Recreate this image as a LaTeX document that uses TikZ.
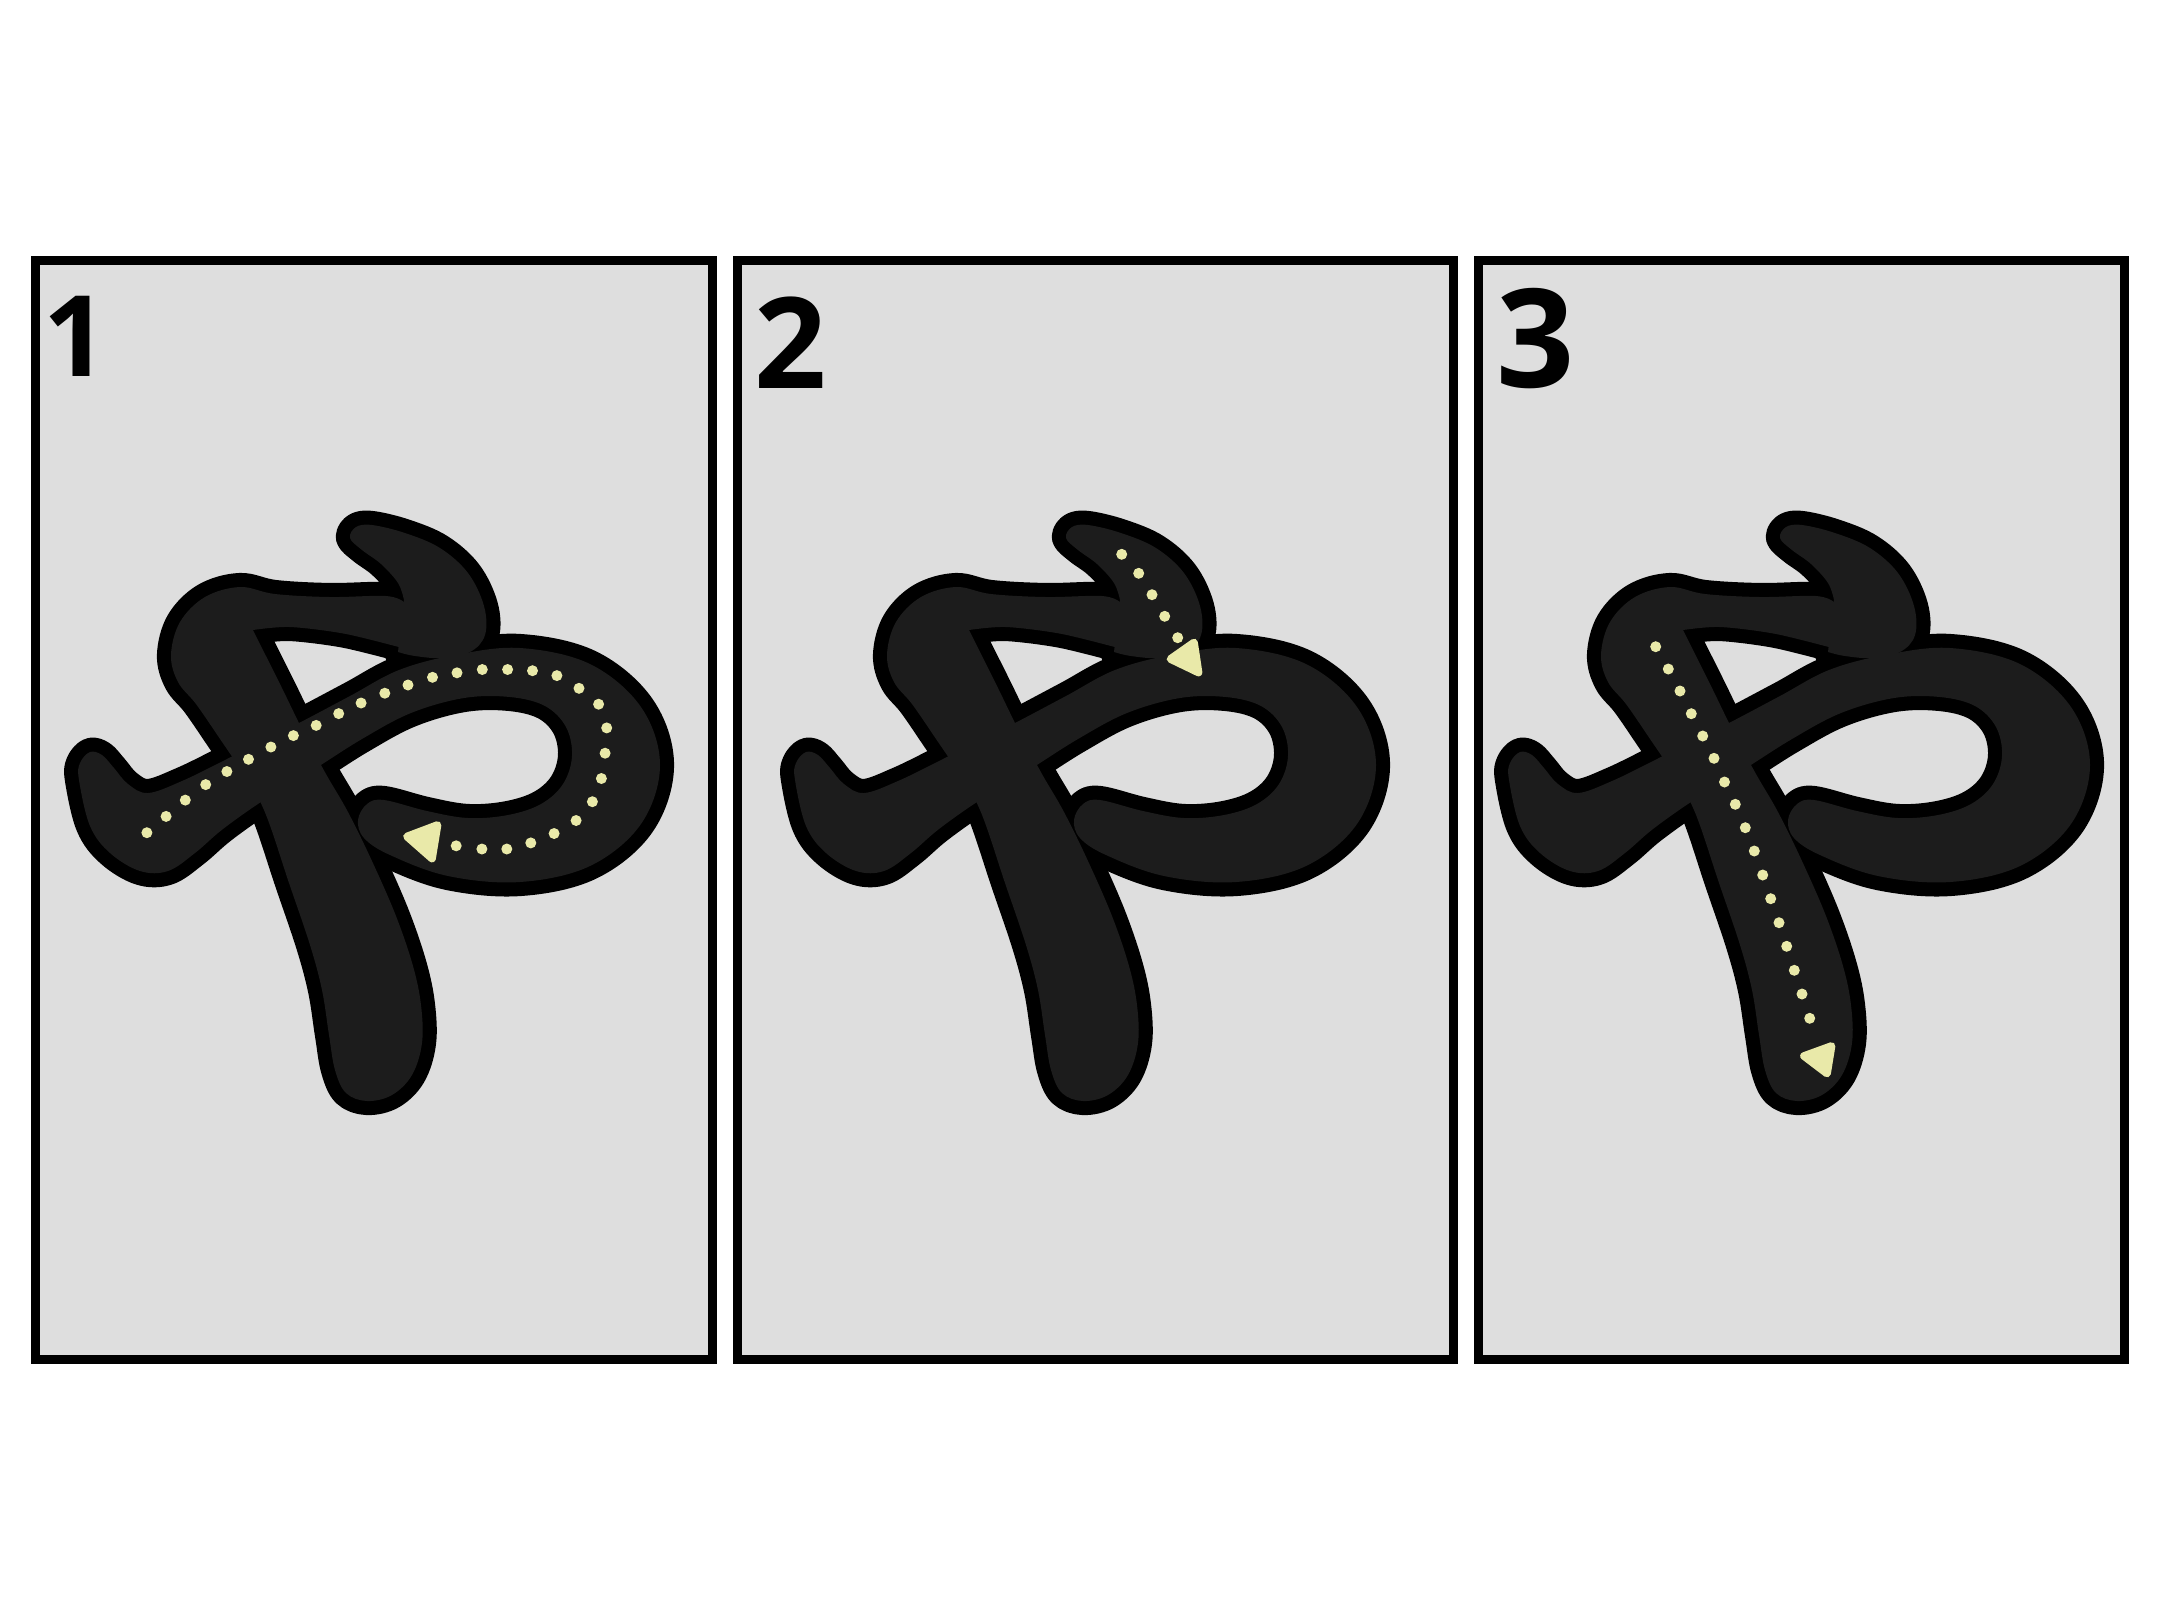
\documentclass[tikz,border=0pt]{standalone}
\usepackage{fontspec}
\setmainfont{Open Sans}
\definecolor{panelbg}{HTML}{DEDEDE}
\definecolor{glyphgray}{HTML}{1C1C1C}
\definecolor{guide}{HTML}{E9E9A9}
\tikzset{
  panelbox/.style={draw=black, fill=panelbg, line width=2.56pt},
  glyphline/.style={draw=black, line width=8pt, line join=round},
  glyphfill/.style={fill=glyphgray},
  guidedot/.style={fill=guide},
  guidetip/.style={fill=guide, draw=guide, line width=2.2pt, line join=round},
  numlabel/.style={font=\bfseries\fontsize{32}{32}\selectfont, inner sep=0pt}
}
\def\strokeloop{plot[smooth cycle, tension=0.6] coordinates {(79,780) (80,763) (90,752) (102,755) (114,768) (128,784) (148,793) (182,781) (223,761) (260,742) (297,724) (350,696) (399,670) (455,655) (520,648) (590,664) (641,707) (660,765) (641,824) (590,866) (520,882) (448,876) (390,855) (364,838) (358,820) (367,804) (384,800) (427,811) (468,818) (508,815) (541,804) (563,784) (572,756) (566,727) (545,706) (510,697) (464,698) (411,713) (362,739) (313,770) (264,800) (223,829) (195,853) (168,871) (140,871) (110,853) (90,826)}}
\def\strokethree{plot[smooth, tension=0.6] coordinates {(253,630) (264,652) (282,688) (304,733) (326,774) (348,812) (372,861) (396,916) (413,966) (421,1005) (422,1043) (412,1075) (392,1095) (367,1101) (346,1093) (335,1070) (329,1035) (322,990) (310,945) (289,883) (264,810) (240,769) (218,736) (196,704) (178,682) (171,655) (180,622) (205,597) (240,587) (275,594) (330,597) (386,596) (404,602)} -- (430,630) -- plot[smooth] coordinates {(410,650) (346,634) (290,627) (253,630)} -- cycle}
\def\strokecres{plot[smooth, tension=0.6] coordinates {(404,600) (398,583) (381,564) (362,550) (350,538) (356,527) (372,525) (405,533) (440,548) (468,573) (484,606) (485,635) (470,652) (442,658) (415,656) (398,652)} -- cycle}
\begin{document}
\begin{tikzpicture}[x=0.1mm,y=-0.1mm]
\fill[white] (0,0) rectangle (2160,1620);
\useasboundingbox (0,0) rectangle (2160,1620);
% panels
\draw[panelbox] (35.5,260.5) rectangle (712.2,1359.5);
\draw[panelbox] (737.5,260.5) rectangle (1453.3,1359.5);
\draw[panelbox] (1478.5,260.5) rectangle (2124.5,1359.5);
% labels
\node[numlabel] (lab1) at (76,336) {1};
\node[numlabel, font=\bfseries\fontsize{36}{36}\selectfont] (lab2) at (791,343) {2};
\node[numlabel, font=\bfseries\fontsize{39}{39}\selectfont] (lab3) at (1536,339) {3};
% glyphs
\foreach \sx in {0,716,1430}{
  \begin{scope}[shift={(\sx,0)}]
    \draw[glyphline] \strokeloop;
    \draw[glyphline] \strokethree;
    \draw[glyphline] \strokecres;
    \fill[glyphfill] \strokeloop;
    \fill[glyphfill] \strokethree;
    \fill[glyphfill] \strokecres;
  \end{scope}
}
% guide dots panel 1
\foreach \p in {(146.9,832.7),(166.1,816.4),(185.3,800.1),(205.7,784.6),(226.9,771.5),(248.5,759.3),(270.9,747.0),(293.4,735.6),(316.2,725.4),(338.7,713.6),(361.1,703.0),(384.8,693.2),(408.0,685.0),(432.5,677.3),(457.0,672.8),(482.3,669.5),(507.6,669.5),(532.5,670.7),(556.9,675.6),(579.0,688.3),(598.6,704.2),(606.7,727.9),(605.1,753.2),(601.4,778.5),(592.4,801.7),(576.1,820.5),(554.1,833.5),(530.8,842.9),(506.8,849.0),(481.9,849.0),(456.2,845.8)}
  \fill[guidedot] \p circle[radius=0.55mm];
\draw[guidetip] (407,836.5) -- (437.5,825) -- (432,858.5) -- cycle;
% guide dots panel 2
\foreach \p in {(1121.7,554.3),(1138.7,573.3),(1152,594.7),(1164.7,616.3),(1177.7,637.7)}
  \fill[guidedot] \p circle[radius=0.55mm];
\draw[guidetip] (1170.5,659) -- (1194,642.5) -- (1198.5,672.5) -- cycle;
% guide dots panel 3
\foreach \p in {(1655.7,646.7),(1668.3,669),(1680,691),(1691.3,713.7),(1702.7,736),(1714,758.3),(1724.5,782),(1735.3,804.3),(1745.3,827.7),(1754.3,851),(1762.7,875),(1770.7,898.7),(1779,922.7),(1786.7,946.3),(1794.3,970.3),(1802,994),(1809.7,1018.3)}
  \fill[guidedot] \p circle[radius=0.55mm];
\draw[guidetip] (1804,1056) -- (1831.5,1046) -- (1827,1073.5) -- cycle;
\end{tikzpicture}
\end{document}
